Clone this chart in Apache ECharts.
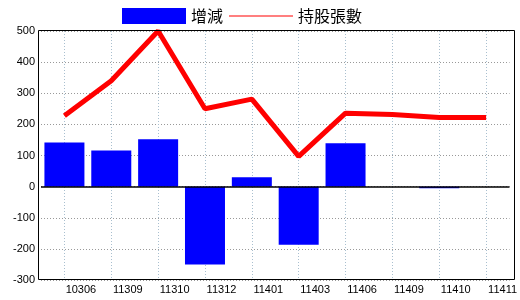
<!DOCTYPE html>
<html><head><meta charset="utf-8">
<script src="https://cdn.jsdelivr.net/npm/echarts@6/dist/echarts.min.js"></script>
<style>html,body{margin:0;padding:0;background:#fff}#c{width:520px;height:300px}</style>
</head><body><div id="c"></div>
<script>
const categories = ['10306','11309','11310','11312','11401','11403','11406','11409','11410','11411'];
const changeValues = [142, 116, 152, -250, 30, -187, 139, 0, -5, 0];
const holdingValues = [228, 340, 500, 250, 281, 97, 236, 232, 222, 222];
const yTicks = {min: -300, max: 500, interval: 100};

const chart = echarts.init(document.getElementById('c'), null, {renderer: 'canvas'});
chart.setOption({
  animation: false,
  backgroundColor: '#fff',
  textStyle: {fontFamily: 'Liberation Sans'},
  legend: {
    top: 3, left: 117,
    itemWidth: 64, itemHeight: 16, itemGap: 6,
    textStyle: {fontSize: 16, color: '#000', fontFamily: 'Noto Sans CJK TC'},
    data: [
      {name: '增減', icon: 'rect'},
      {name: '持股張數', icon: 'path://M0,0 L64,0 L64,1 L0,1 Z', itemStyle: {color: '#ff0000'}}
    ]
  },
  graphic: [{
    type: 'rect', silent: true, z: 100,
    shape: {x: 38.5, y: 30.5, width: 476, height: 249},
    style: {fill: 'none', stroke: '#000', lineWidth: 1}
  }],
  grid: {left: 41, right: 9, top: 31, bottom: 20},
  xAxis: {
    type: 'category', data: categories, boundaryGap: true,
    axisLine: {show: false}, axisTick: {show: false, alignWithLabel: true},
    axisLabel: {color: '#000', fontSize: 11, margin: 4, padding: [0, 0, 0, 33], interval: 0},
    splitLine: {show: true, alignWithLabel: true, interval: 0, lineStyle: {color: '#a9bfcf', type: [1, 2], width: 1}}
  },
  yAxis: {
    type: 'value', min: yTicks.min, max: yTicks.max, interval: yTicks.interval,
    axisLine: {show: false}, axisTick: {show: false},
    axisLabel: {color: '#000', fontSize: 11, margin: 6},
    splitLine: {show: true, lineStyle: {color: '#999', type: [1, 2], width: 1}}
  },
  series: [
    {
      name: '增減', type: 'bar', data: changeValues, barWidth: 40,
      itemStyle: {color: '#0000ff'},
      markLine: {silent: true, symbol: 'none', label: {show: false},
        lineStyle: {color: '#000', type: 'solid', width: 1.5},
        data: [{yAxis: 0}]}
    },
    {
      name: '持股張數', type: 'line', data: holdingValues, symbol: 'none',
      lineStyle: {color: '#ff0000', width: 5}, itemStyle: {color: '#ff0000'}
    }
  ]
});
</script></body></html>
